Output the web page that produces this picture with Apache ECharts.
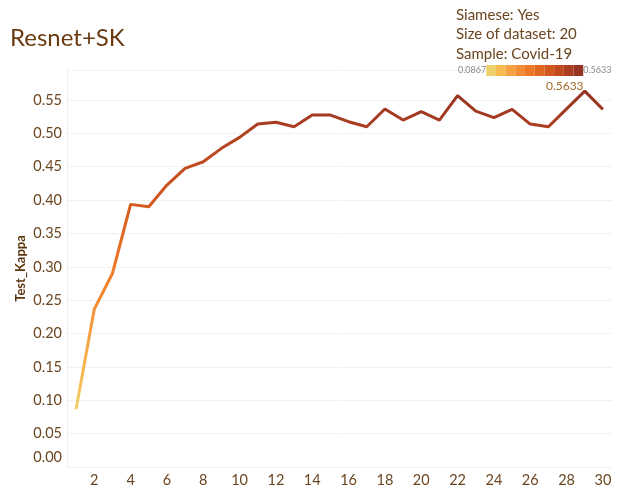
<!DOCTYPE html>
<html>
<head>
<meta charset="utf-8">
<script src="https://cdn.jsdelivr.net/npm/echarts@6/dist/echarts.min.js"></script>
<style>
  html, body { margin: 0; padding: 0; background: #fff; }
  #main { width: 620px; height: 495px; }
</style>
</head>
<body>
<div id="main"></div>
<script>
// epochs and test kappa
var epochs = [1,2,3,4,5,6,7,8,9,10,11,12,13,14,15,16,17,18,19,20,21,22,23,24,25,26,27,28,29,30];
var kappa = [0.0867,0.2365,0.290,0.3936,0.390,0.4226,0.4476,0.4575,0.4776,0.494,
             0.514,0.5166,0.510,0.5275,0.5275,0.5175,0.510,0.5365,0.520,0.5325,
             0.520,0.5565,0.5335,0.5235,0.536,0.514,0.510,0.5368,0.5633,0.536];
var yTicks = ['0.00','0.05','0.10','0.15','0.20','0.25','0.30','0.35','0.40','0.45','0.50','0.55'];
var infoLines = ['Siamese: Yes','Size of dataset: 20','Sample: Covid-19'];
var colorSteps = ['#efd16a','#f5b94f','#f6a243','#f28d35','#ec7927','#df6821','#d1581f','#bf4a1f','#ab3e21','#963323'];
var kMin = 0.0867, kMax = 0.5633;

var FONT = 'Lato';
var brown = '#6b4520';

var myChart = echarts.init(document.getElementById('main'));
var option = {
    textStyle: { fontFamily: FONT },
    title: [
        {
            text: 'Resnet+SK',
            left: 10, top: 26,
            padding: 0,
            textStyle: { fontFamily: FONT, fontSize: 24, fontWeight: 'normal', color: '#6a3b10' }
        },
        {
            text: infoLines.join('\n'),
            left: 456, top: 5,
            padding: 0,
            textStyle: { fontFamily: FONT, fontSize: 15, fontWeight: 'normal', color: brown, lineHeight: 19.5 }
        }
    ],
    visualMap: [
        {
            type: 'continuous',
            show: false,
            seriesIndex: 0,
            dimension: 1,
            min: kMin, max: kMax,
            inRange: { color: colorSteps }
        },
        {
            // stepped legend only, not bound to a series
            type: 'piecewise',
            seriesIndex: [],
            orient: 'horizontal',
            min: kMin, max: kMax,
            splitNumber: 10,
            left: 458, top: 65,
            padding: 0,
            itemWidth: 9.7, itemHeight: 11, itemGap: 0,
            itemSymbol: 'rect',
            showLabel: false,
            text: ['0.5633', '0.0867'],
            textGap: 3,
            textStyle: { fontFamily: FONT, fontSize: 9, color: '#8a8a8a' },
            inRange: { color: colorSteps }
        }
    ],
    grid: { left: 67, right: 8, top: 70, bottom: 28 },
    xAxis: {
        type: 'category',
        data: epochs,
        boundaryGap: true,
        axisLine: { show: true, lineStyle: { color: '#f0f0f0' } },
        axisTick: { show: false },
        axisLabel: {
            interval: function (idx) { return idx % 2 === 1; },
            margin: 6,
            fontSize: 14.5,
            color: brown
        },
        splitLine: { show: false }
    },
    yAxis: {
        type: 'value',
        min: 0, max: 0.595,
        interval: 0.05,
        name: 'Test_Kappa',
        nameLocation: 'middle',
        nameGap: 40,
        nameMoveOverlap: false,
        nameTextStyle: { fontFamily: FONT, fontSize: 13, fontWeight: 'bold', color: '#5c3510' },
        axisLine: { show: true, lineStyle: { color: '#f0f0f0' } },
        axisTick: { show: false },
        axisLabel: {
            margin: 5,
            fontSize: 14.5,
            color: brown,
            showMaxLabel: false,
            formatter: function (v) {
                var i = Math.round(v / 0.05);
                if (Math.abs(v - i * 0.05) > 1e-6 || !yTicks[i]) return '';
                return i === 0 ? '{z|' + yTicks[i] + '}' : yTicks[i];
            },
            rich: { z: { fontFamily: FONT, fontSize: 14.5, color: brown, padding: [0, 0, 20, 0] } }
        },
        splitLine: { show: true, lineStyle: { color: '#f2f2f2', width: 1 } }
    },
    series: [
        {
            name: 'Test_Kappa',
            type: 'line',
            data: kappa,
            symbol: 'none',
            lineStyle: { width: 3 },
            markPoint: {
                symbol: 'circle',
                symbolSize: 0,
                data: [{ type: 'max' }],
                label: {
                    show: true,
                    position: 'top',
                    distance: 1,
                    offset: [-20, 2],
                    fontFamily: FONT,
                    fontSize: 12,
                    color: '#a06a2c',
                    formatter: function (p) { return p.value.toFixed(4); }
                }
            }
        }
    ]
};
myChart.setOption(option);
</script>
</body>
</html>
